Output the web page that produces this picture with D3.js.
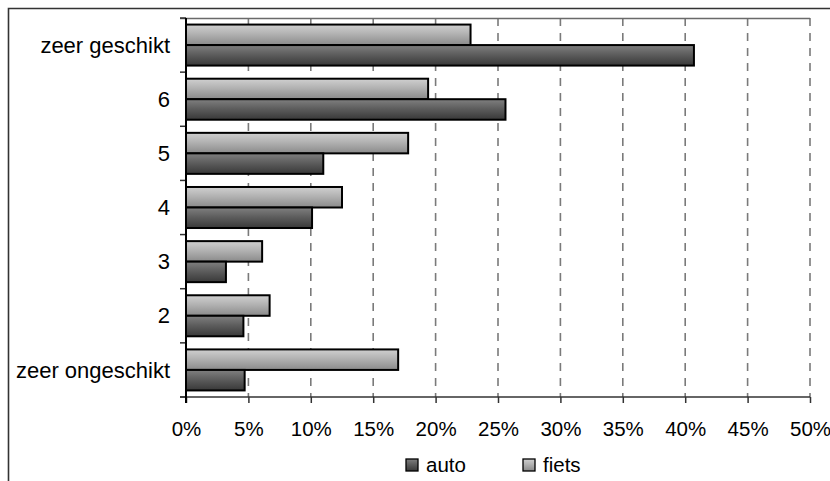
<!DOCTYPE html>
<html>
<head>
<meta charset="utf-8">
<script src="https://cdn.jsdelivr.net/npm/d3@7"></script>
<style>
  html, body { margin: 0; padding: 0; background: #fff; }
  svg { display: block; font-family: "Liberation Sans", Arial, sans-serif; }
</style>
</head>
<body>
<svg id="chart" width="830" height="481"></svg>
<script>
// Rating categories, top to bottom
const categories = ["zeer geschikt", "6", "5", "4", "3", "2", "zeer ongeschikt"];
// Share of respondents per rating (%)
const fietsValues = [22.8, 19.4, 17.8, 12.5, 6.1, 6.7, 17.0];
const autoValues  = [40.7, 25.6, 11.0, 10.1, 3.2, 4.6, 4.7];
const seriesNames = ["fiets", "auto"];
const legendOrder = ["auto", "fiets"];
const xTicks = [0, 5, 10, 15, 20, 25, 30, 35, 40, 45, 50];

const svg = d3.select("#chart");
const W = 830, H = 481;
const plot = { left: 186, right: 810, top: 18, bottom: 397 };

// Gradient fills for the two series
const defs = svg.append("defs");
const grads = {
  fiets: ["#d0d0d0", "#b2b2b2", "#8a8a8a"],
  auto:  ["#808080", "#5e5e5e", "#383838"]
};
Object.entries(grads).forEach(([k, stops]) => {
  const g = defs.append("linearGradient").attr("id", "g-" + k)
    .attr("x1", 0).attr("y1", 0).attr("x2", 0).attr("y2", 1);
  g.append("stop").attr("offset", "0%").attr("stop-color", stops[0]);
  g.append("stop").attr("offset", "45%").attr("stop-color", stops[1]);
  g.append("stop").attr("offset", "100%").attr("stop-color", stops[2]);
});

// Outer chart frame (top and left edges)
svg.append("path")
  .attr("d", `M8.5,${H} V8.5 H${W}`)
  .attr("fill", "none").attr("stroke", "#333").attr("stroke-width", 1.6);

const x = d3.scaleLinear().domain([0, 50]).range([plot.left, plot.right]);
const y = d3.scaleBand().domain(categories).range([plot.top, plot.bottom]);
const ySub = d3.scaleBand().domain(seriesNames).range([0, y.bandwidth()]).paddingOuter(0.32);

// Dashed vertical gridlines
svg.append("g").selectAll("line").data(xTicks.slice(1)).join("line")
  .attr("x1", d => x(d)).attr("x2", d => x(d))
  .attr("y1", plot.top).attr("y2", plot.bottom)
  .attr("stroke", "#7a7a7a").attr("stroke-width", 1.6)
  .attr("stroke-dasharray", "8,7");

// Top edge of plot area
svg.append("line")
  .attr("x1", plot.left - 6).attr("x2", plot.right)
  .attr("y1", plot.top + 0.5).attr("y2", plot.top + 0.5)
  .attr("stroke", "#6a6a6a").attr("stroke-width", 1.5);

// Bars
const rows = categories.map((c, i) => ({ cat: c, fiets: fietsValues[i], auto: autoValues[i] }));
const gRows = svg.append("g").selectAll("g").data(rows).join("g")
  .attr("transform", d => `translate(0,${y(d.cat)})`);
gRows.selectAll("rect")
  .data(d => seriesNames.map(s => ({ s, v: d[s] })))
  .join("rect")
  .attr("x", x(0))
  .attr("y", d => ySub(d.s))
  .attr("width", d => x(d.v) - x(0))
  .attr("height", ySub.bandwidth())
  .attr("fill", d => `url(#g-${d.s})`)
  .attr("stroke", "#000").attr("stroke-width", 2);

// X axis (bottom)
const xAxis = svg.append("g")
  .attr("transform", `translate(0,${plot.bottom})`)
  .call(d3.axisBottom(x).tickValues(xTicks).tickFormat(d => d + "%").tickSizeInner(6).tickSizeOuter(0).tickPadding(18));
xAxis.select(".domain").remove();
xAxis.selectAll(".tick line").attr("stroke", "#333").attr("stroke-width", 1.5);
xAxis.selectAll("text").attr("font-size", 20.5).attr("fill", "#000");
svg.append("line")
  .attr("x1", plot.left - 6).attr("x2", plot.right)
  .attr("y1", plot.bottom).attr("y2", plot.bottom)
  .attr("stroke", "#333").attr("stroke-width", 1.5);

// Y axis (categories)
const boundaries = categories.map(c => y(c)).concat([plot.bottom]);
svg.append("g").selectAll("line").data(boundaries).join("line")
  .attr("x1", plot.left - 6).attr("x2", plot.left)
  .attr("y1", d => d).attr("y2", d => d)
  .attr("stroke", "#333").attr("stroke-width", 1.5);
svg.append("line")
  .attr("x1", plot.left).attr("x2", plot.left)
  .attr("y1", plot.top).attr("y2", plot.bottom + 6)
  .attr("stroke", "#000").attr("stroke-width", 2);
svg.append("g").selectAll("text").data(categories).join("text")
  .attr("x", plot.left - 16)
  .attr("y", d => y(d) + y.bandwidth() / 2)
  .attr("dy", "0.35em")
  .attr("text-anchor", "end")
  .attr("font-size", 22)
  .text(d => d);

// Legend
const legendX = { auto: 406, fiets: 523 };
const lg = svg.append("g").selectAll("g").data(legendOrder).join("g")
  .attr("transform", d => `translate(${legendX[d]},459)`);
lg.append("rect").attr("width", 12).attr("height", 12)
  .attr("fill", d => `url(#g-${d})`).attr("stroke", "#000").attr("stroke-width", 1.3);
lg.append("text").attr("x", 20).attr("y", 12.5)
  .attr("font-size", 20.5).text(d => d);
</script>
</body>
</html>
